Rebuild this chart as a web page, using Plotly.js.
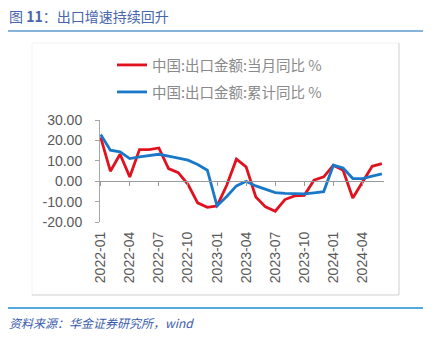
<!DOCTYPE html>
<html>
<head>
<meta charset="utf-8">
<script src="https://cdn.plot.ly/plotly-3.0.1.min.js"></script>
<style>html,body{margin:0;padding:0;background:#fff;}#chart{width:431px;height:343px;}</style>
</head>
<body>
<div id="chart"></div>
<script>
const months = ["2022-01","2022-02","2022-03","2022-04","2022-05","2022-06","2022-07","2022-08","2022-09","2022-10","2022-11","2022-12",
"2023-01","2023-02","2023-03","2023-04","2023-05","2023-06","2023-07","2023-08","2023-09","2023-10","2023-11","2023-12",
"2024-01","2024-02","2024-03","2024-04","2024-05","2024-06"];
const monthlyYoY = [21.5, 4.9, 13.2, 2.1, 15.5, 15.5, 16.3, 6.2, 4.2, -1.5, -10.6, -12.8,
  -12.1, -2.0, 10.8, 7.0, -7.7, -12.6, -14.7, -9.0, -7.2, -6.9, 0.5, 2.1,
  7.8, 5.4, -8.2, -0.3, 7.3, 8.6];
const cumulativeYoY = [22.9, 15.2, 14.4, 11.1, 11.9, 12.6, 13.2, 12.3, 11.4, 10.3, 8.2, 5.4,
  -12.1, -7.5, -2.3, 0.0, -2.3, -4.1, -5.6, -6.0, -6.2, -6.2, -5.7, -5.1,
  7.8, 6.5, 1.3, 1.3, 2.5, 3.6];
const xTickLabels = ["2022-01","2022-04","2022-07","2022-10","2023-01","2023-04","2023-07","2023-10","2024-01","2024-04"];
const yTickVals = [-20, -10, 0, 10, 20, 30];
const yTickText = ["-20.00","-10.00","0.00","10.00","20.00","30.00"];
const seriesNames = ["中国:出口金额:当月同比 %", "中国:出口金额:累计同比 %"];
const titleText = "图 <b>11</b>：出口增速持续回升";
const sourceText = "资料来源：华金证券研究所，wind";

const L = 100, W = 284, T = 120, H = 102;
const PX = x => (x - L) / W;
const PY = y => (T + H - y) / H;
const font = "Liberation Sans, Arial, Noto Sans CJK SC, sans-serif";
const xr = [-0.07, 29.22];

const traces = [
  {x: months, y: monthlyYoY, name: seriesNames[0], type: 'scatter', mode: 'lines',
   line: {color: '#e0121f', width: 2.8}, legend: 'legend', xaxis: 'x', yaxis: 'y'},
  {x: months, y: cumulativeYoY, name: seriesNames[1], type: 'scatter', mode: 'lines',
   line: {color: '#1a78c8', width: 2.8}, legend: 'legend2', xaxis: 'x2', yaxis: 'y'}
];

const legendBase = {xanchor: 'left', yanchor: 'middle', bgcolor: 'rgba(0,0,0,0)', borderwidth: 0,
  font: {family: "Noto Sans CJK SC, Liberation Sans, sans-serif", size: 14.5, color: '#8a8a8a'}};

const layout = {
  width: 431, height: 343, autosize: false,
  margin: {l: L, r: 431 - L - W, t: T, b: 343 - T - H, pad: 0},
  paper_bgcolor: '#fff', plot_bgcolor: 'rgba(0,0,0,0)',
  font: {family: font, color: '#595959'},
  showlegend: true,
  legend: Object.assign({x: PX(112), y: PY(65)}, legendBase),
  legend2: Object.assign({x: PX(112), y: PY(92)}, legendBase),
  xaxis: {type: 'category', categoryorder: 'array', categoryarray: months, range: xr,
    tickvals: xTickLabels, ticktext: xTickLabels, tickangle: -90, showline: false, showgrid: false,
    zeroline: false, ticks: '', tickfont: {size: 14, color: '#595959', family: font}, ticklabelstandoff: 6},
  xaxis2: {type: 'category', categoryorder: 'array', categoryarray: months, range: xr, overlaying: 'x',
    anchor: 'free', position: 0.4, tickvals: xTickLabels, showticklabels: false, showline: true,
    linecolor: '#9a9a9a', linewidth: 1, ticks: 'outside', ticklen: 4, tickcolor: '#9a9a9a', showgrid: false, zeroline: false},
  yaxis: {range: [-20, 30], tickvals: yTickVals, ticktext: yTickText, showgrid: false, zeroline: false,
    showline: true, linecolor: '#a6a6a6', linewidth: 1, ticks: 'outside', ticklen: 4, tickcolor: '#a6a6a6',
    tickfont: {size: 14, color: '#595959', family: font}, ticklabelstandoff: 10},
  shapes: [
    {type: 'line', xref: 'paper', yref: 'paper', x0: PX(8), x1: PX(423), y0: PY(31), y1: PY(31), line: {color: '#86b3da', width: 2}},
    {type: 'line', xref: 'paper', yref: 'paper', x0: PX(8), x1: PX(423), y0: PY(308), y1: PY(308), line: {color: '#1f8ad6', width: 1.5}},
    {type: 'line', xref: 'paper', yref: 'paper', x0: PX(32), x1: PX(399), y0: PY(43), y1: PY(43), line: {color: '#f2f2f2', width: 1}},
    {type: 'line', xref: 'paper', yref: 'paper', x0: PX(32), x1: PX(32), y0: PY(43), y1: PY(295), line: {color: '#f2f2f2', width: 1}},
    {type: 'line', xref: 'paper', yref: 'paper', x0: PX(399), x1: PX(399), y0: PY(43), y1: PY(295), line: {color: '#cfcfcf', width: 1}},
    {type: 'line', xref: 'paper', yref: 'paper', x0: PX(32), x1: PX(399), y0: PY(295), y1: PY(295), line: {color: '#cfcfcf', width: 1}}
  ],
  annotations: [
    {text: titleText, xref: 'paper', yref: 'paper', x: PX(7), y: PY(16), xanchor: 'left', yanchor: 'middle',
     showarrow: false, font: {family: "Noto Sans CJK SC, Liberation Sans, sans-serif", size: 14, color: '#4766ab'}},
    {text: '<i>' + sourceText + '</i>', xref: 'paper', yref: 'paper', x: PX(7), y: PY(322), xanchor: 'left', yanchor: 'middle',
     showarrow: false, font: {family: "Noto Sans CJK SC, Liberation Sans, sans-serif", size: 12, color: '#3a5cab'}}
  ]
};

Plotly.newPlot('chart', traces, layout, {staticPlot: true, displayModeBar: false});
</script>
</body>
</html>
